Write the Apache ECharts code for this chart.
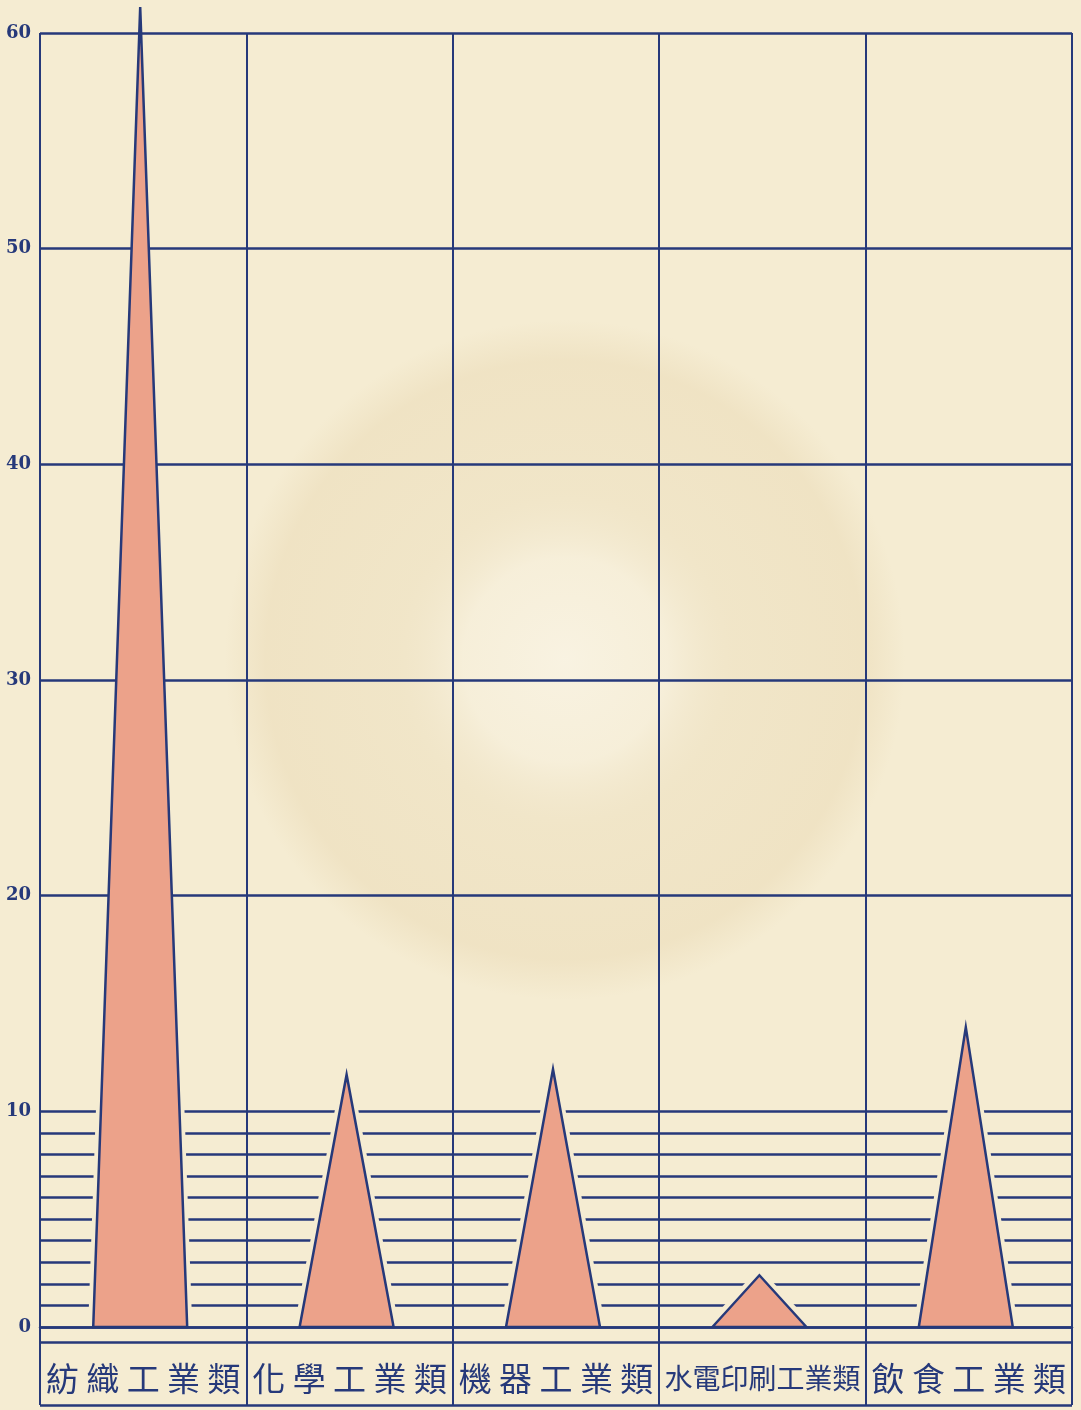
<!DOCTYPE html>
<html>
<head>
<meta charset="utf-8">
<style>
  html, body { margin: 0; padding: 0; background: #f5ecd2; }
  #chart { width: 1081px; height: 1410px; }
</style>
<script src="https://cdn.jsdelivr.net/npm/echarts@6/dist/echarts.min.js"></script>
</head>
<body>
<div id="chart"></div>
<script>
const categories = ['紡織工業類', '化學工業類', '機器工業類', '水電印刷工業類', '飲食工業類'];
const values = [61.2, 11.7, 11.95, 2.4, 13.9];
const yTicks = { min: 0, max: 60, interval: 10 };
const minorTicks = [1, 2, 3, 4, 5, 6, 7, 8, 9];

const NAVY = '#26397a';
const PAPER = '#f5ecd2';
const FILL = '#eca28a';
const HALF = 47;      // half base width of a triangle, px
const SHIFT = -3;     // horizontal nudge of triangles, px
const GAP = 5;        // clear margin between minor lines and triangles, px
const GAP_TOP = 10.5; // value up to which the clear margin is drawn

const chart = echarts.init(document.getElementById('chart'), null, { renderer: 'canvas' });

function triangleRender(params, api) {
  const idx = api.value(0), v = api.value(1);
  const b = api.coord([idx, 0]);
  const t = api.coord([idx, v]);
  const cx = b[0] + SHIFT;
  return {
    type: 'polygon',
    shape: { points: [[cx - HALF, b[1]], [cx, t[1]], [cx + HALF, b[1]]] },
    style: { fill: FILL, stroke: NAVY, lineWidth: 2.5, lineJoin: 'miter' }
  };
}

function gapRender(params, api) {
  const idx = api.value(0), v = api.value(1);
  const b = api.coord([idx, 0]);
  const t = api.coord([idx, v]);
  const cut = api.coord([idx, GAP_TOP])[1];
  const cx = b[0] + SHIFT;
  const H = b[1] - t[1];
  const a = Math.atan(HALF / H);
  const apexY = t[1] - GAP / Math.sin(a);
  const halfB = HALF + GAP / Math.cos(a);
  const bottom = b[1] - 2;
  const H2 = b[1] - apexY;
  let pts;
  if (apexY >= cut) {
    pts = [[cx - halfB, bottom], [cx, apexY], [cx + halfB, bottom]];
  } else {
    const w = halfB * (b[1] - cut) / H2;
    const wc = halfB - w;
    pts = [[cx - halfB, bottom], [cx - wc, cut], [cx + wc, cut], [cx + halfB, bottom]];
  }
  return { type: 'polygon', shape: { points: pts }, style: { fill: PAPER } };
}

chart.setOption({
  backgroundColor: PAPER,
  animation: false,
  graphic: [{
    type: 'circle',
    z: -10,
    silent: true,
    shape: { cx: 565, cy: 660, r: 340 },
    style: {
      fill: {
        type: 'radial', x: 0.5, y: 0.5, r: 0.5,
        colorStops: [
          { offset: 0, color: 'rgba(250,245,232,0.7)' },
          { offset: 0.3, color: 'rgba(248,242,226,0.45)' },
          { offset: 0.5, color: 'rgba(228,210,170,0.25)' },
          { offset: 0.88, color: 'rgba(228,208,166,0.32)' },
          { offset: 1, color: 'rgba(228,208,166,0)' }
        ]
      }
    }
  }],
  grid: [
    { left: 40, right: 9, top: 33, bottom: 83 },
    { left: 40, right: 9, top: 1342, bottom: 5 }
  ],
  xAxis: [
    {
      type: 'category', gridIndex: 0, data: categories, boundaryGap: true,
      axisLine: { show: true, lineStyle: { color: NAVY, width: 2.5 } },
      axisTick: { show: true, interval: 0, length: 15, lineStyle: { color: NAVY, width: 2 } },
      axisLabel: { show: false },
      splitLine: { show: true, interval: 0, lineStyle: { color: NAVY, width: 2 } }
    },
    {
      type: 'category', gridIndex: 1, data: categories, boundaryGap: true,
      axisLine: { show: false },
      axisTick: { show: false },
      splitLine: { show: true, interval: 0, lineStyle: { color: NAVY, width: 2 } },
      axisLabel: {
        show: true, interval: 0, inside: true, margin: 27, verticalAlign: 'middle',
        formatter: function (v) {
          const s = v.split('').join(v.length > 5 ? '' : ' ');
          return v.length > 5 ? '{s|' + s + '}' : '{b|' + s + '}';
        },
        rich: {
          b: { fontFamily: 'Noto Sans CJK TC', fontSize: 33, color: NAVY },
          s: { fontFamily: 'Noto Sans CJK TC', fontSize: 28, color: NAVY }
        }
      }
    }
  ],
  yAxis: [
    {
      type: 'value', gridIndex: 0, min: yTicks.min, max: yTicks.max, interval: yTicks.interval,
      axisLine: { show: false },
      axisTick: { show: false },
      axisLabel: {
        show: true, margin: 9, color: NAVY,
        fontFamily: 'DejaVu Serif', fontWeight: 'bold', fontSize: 18
      },
      splitLine: { show: true, lineStyle: { color: NAVY, width: 2.5 } }
    },
    {
      type: 'value', gridIndex: 1, min: 0, max: 1, interval: 1,
      axisLine: { show: false }, axisTick: { show: false }, axisLabel: { show: false },
      splitLine: { show: true, lineStyle: { color: NAVY, width: 2.5 } }
    }
  ],
  series: [
    {
      type: 'line', xAxisIndex: 0, yAxisIndex: 0, data: [], silent: true,
      markLine: {
        z: 1, silent: true, symbol: 'none', label: { show: false },
        lineStyle: { color: NAVY, width: 2.5, type: 'solid' },
        data: minorTicks.map(v => ({ yAxis: v }))
      }
    },
    {
      type: 'custom', xAxisIndex: 0, yAxisIndex: 0, z: 2, silent: true,
      renderItem: gapRender,
      data: values.map((v, i) => [i, v])
    },
    {
      type: 'custom', xAxisIndex: 0, yAxisIndex: 0, z: 3,
      renderItem: triangleRender,
      data: values.map((v, i) => [i, v])
    }
  ]
});
</script>
</body>
</html>
